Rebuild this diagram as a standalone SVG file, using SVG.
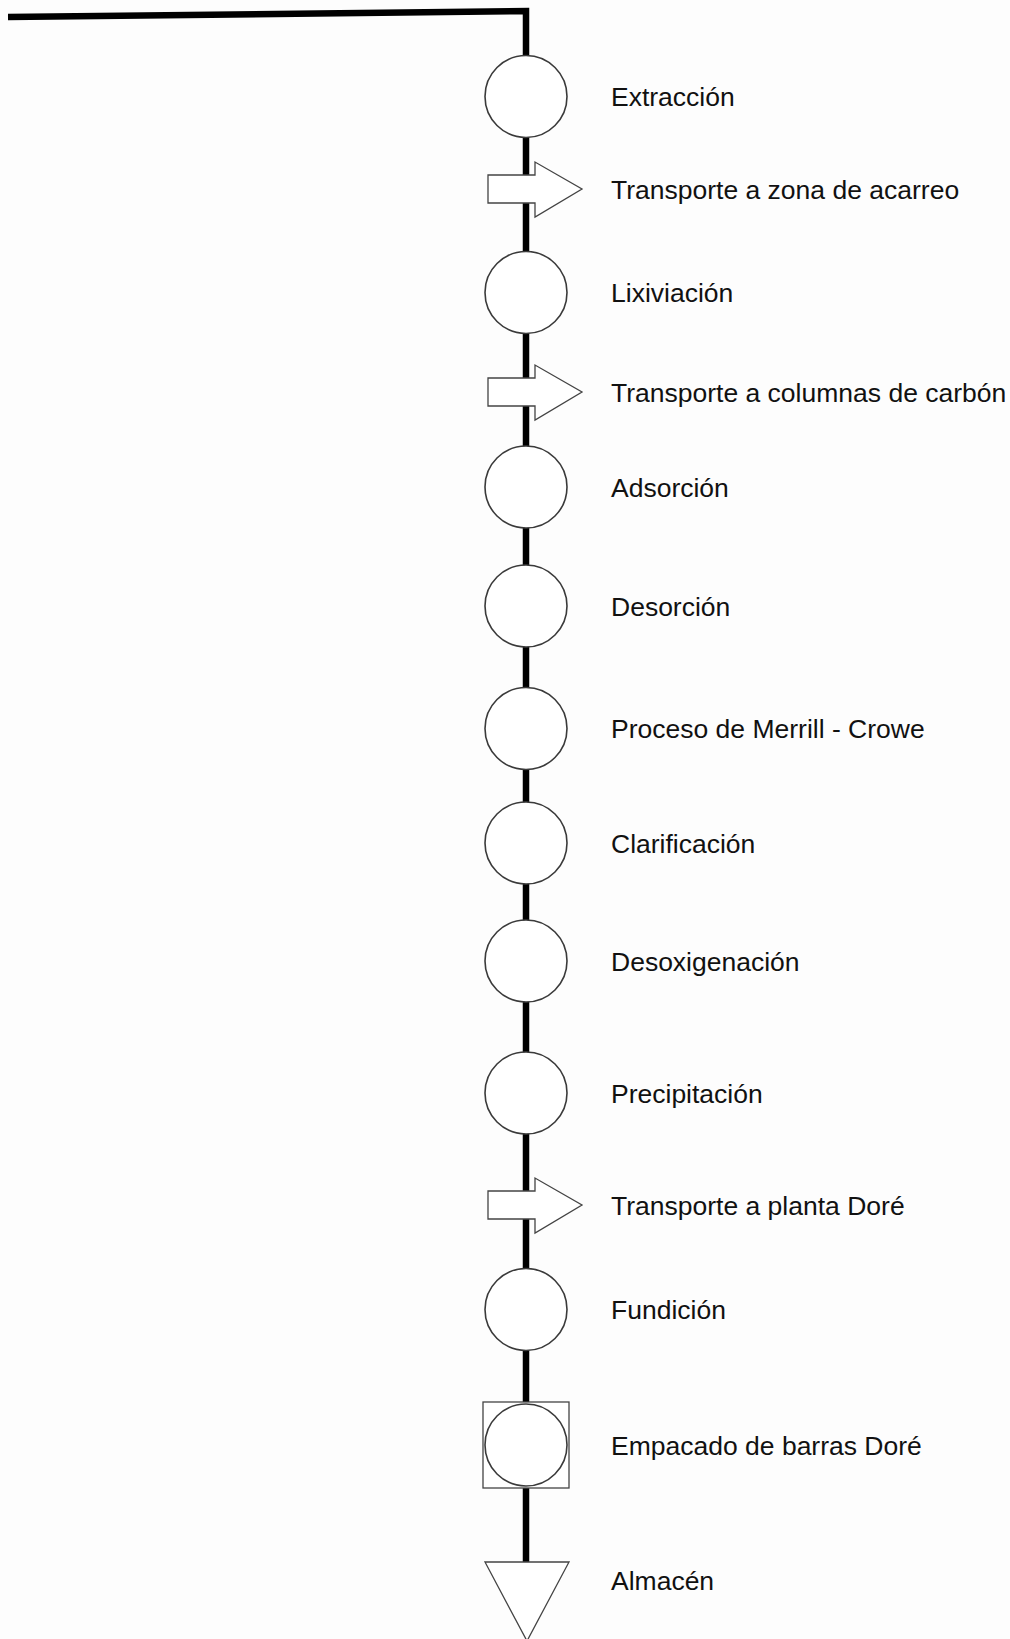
<svg xmlns="http://www.w3.org/2000/svg" width="1010" height="1639" viewBox="0 0 1010 1639">
<style>
.bg{fill:#fdfdfd}
.flow{fill:none;stroke:#000;stroke-width:6.5;stroke-linejoin:miter}
.op{fill:#fff;stroke:#3a3a3a;stroke-width:1.6}
.tr{fill:#fff;stroke:#444;stroke-width:1.3}
.lbl{font-family:"Liberation Sans",Arial,sans-serif;font-size:26.5px;fill:#111}
</style>
<rect class="bg" x="0" y="0" width="1010" height="1639"/>
<g id="connectors">
<polyline class="flow" points="8,17 526,11 526,1562"/>
</g>
<g id="n1"><circle class="op" cx="526" cy="96.5" r="41"/><text class="lbl" x="611" y="106">Extracción</text></g>
<g id="n2"><path class="tr" d="M488,175 L535,175 L535,162 L582,189 L535,217 L535,203 L488,203 Z"/><text class="lbl" x="611" y="198.5">Transporte a zona de acarreo</text></g>
<g id="n3"><circle class="op" cx="526" cy="292.5" r="41"/><text class="lbl" x="611" y="302">Lixiviación</text></g>
<g id="n4"><path class="tr" d="M488,378 L535,378 L535,365 L582,392 L535,420 L535,406 L488,406 Z"/><text class="lbl" x="611" y="401.5">Transporte a columnas de carbón</text></g>
<g id="n5"><circle class="op" cx="526" cy="487" r="41"/><text class="lbl" x="611" y="496.5">Adsorción</text></g>
<g id="n6"><circle class="op" cx="526" cy="606" r="41"/><text class="lbl" x="611" y="615.5">Desorción</text></g>
<g id="n7"><circle class="op" cx="526" cy="728.5" r="41"/><text class="lbl" x="611" y="738">Proceso de Merrill - Crowe</text></g>
<g id="n8"><circle class="op" cx="526" cy="843" r="41"/><text class="lbl" x="611" y="852.5">Clarificación</text></g>
<g id="n9"><circle class="op" cx="526" cy="961" r="41"/><text class="lbl" x="611" y="970.5">Desoxigenación</text></g>
<g id="n10"><circle class="op" cx="526" cy="1093" r="41"/><text class="lbl" x="611" y="1102.5">Precipitación</text></g>
<g id="n11"><path class="tr" d="M488,1191 L535,1191 L535,1178 L582,1205 L535,1233 L535,1219 L488,1219 Z"/><text class="lbl" x="611" y="1214.5">Transporte a planta Doré</text></g>
<g id="n12"><circle class="op" cx="526" cy="1309.5" r="41"/><text class="lbl" x="611" y="1319">Fundición</text></g>
<g id="n13"><rect class="tr" x="483" y="1402" width="86" height="86"/><circle class="op" cx="526" cy="1445" r="41"/><text class="lbl" x="611" y="1454.5">Empacado de barras Doré</text></g>
<g id="n14"><polygon class="tr" points="485,1562 569,1562 527,1641"/><text class="lbl" x="611" y="1590">Almacén</text></g>
</svg>
